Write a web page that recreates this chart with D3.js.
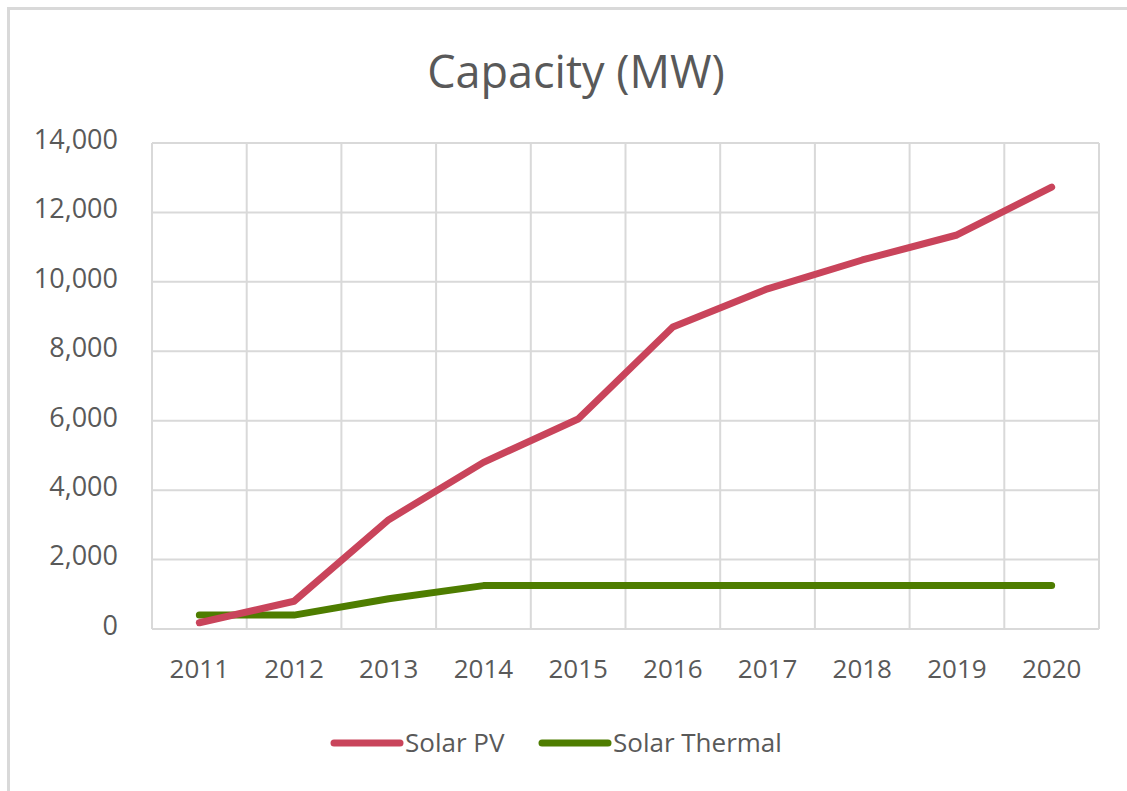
<!DOCTYPE html>
<html>
<head>
<meta charset="utf-8">
<script src="https://cdn.jsdelivr.net/npm/d3@7"></script>
<style>
  body { margin: 0; background: #fff; }
  text { font-family: "Open Sans", "Noto Sans", sans-serif; fill: #595959; }
</style>
</head>
<body>
<div id="chart"></div>
<script>
// chart values
var years = ["2011", "2012", "2013", "2014", "2015", "2016", "2017", "2018", "2019", "2020"];
var solarPV = [180, 800, 3150, 4800, 6050, 8700, 9800, 10630, 11350, 12730];
var solarThermal = [400, 400, 870, 1250, 1250, 1250, 1250, 1250, 1250, 1250];
var yTicks = [0, 2000, 4000, 6000, 8000, 10000, 12000, 14000];
var seriesNames = ["Solar PV", "Solar Thermal"];
var seriesColors = ["#c9445b", "#4e7d00"];

var svgWidth = 1127;
var svgHeight = 791;

var margin = { top: 143, right: 28, bottom: 162, left: 152 };
var width = svgWidth - margin.left - margin.right;
var height = svgHeight - margin.top - margin.bottom;

var svg = d3.select("#chart")
  .append("svg")
  .attr("width", svgWidth)
  .attr("height", svgHeight);

// outer chart border (cut off by the screenshot on the right and bottom)
svg.append("path")
  .attr("d", "M8.5,791 V8.5 H1127")
  .attr("fill", "none")
  .attr("stroke", "#d9d9d9")
  .attr("stroke-width", 3);

// tail of a heading above the chart, mostly cropped away
svg.append("text")
  .attr("x", 314)
  .attr("y", -9)
  .style("font-family", "'Open Sans', sans-serif")
  .style("font-weight", "bold")
  .style("font-size", "40px")
  .style("fill", "#000")
  .text("g");

// title
svg.append("text")
  .attr("x", 576)
  .attr("y", 88)
  .attr("text-anchor", "middle")
  .style("font-size", "45px")
  .text("Capacity (MW)");

var chartGroup = svg.append("g")
  .attr("transform", `translate(${margin.left}, ${margin.top})`);

var xScale = d3.scaleBand()
  .domain(years)
  .range([0, width])
  .padding(0);

var yScale = d3.scaleLinear()
  .domain([0, 14000])
  .range([height, 0]);

// horizontal gridlines
chartGroup.append("g")
  .selectAll("line")
  .data(yTicks)
  .enter()
  .append("line")
  .attr("x1", 0)
  .attr("x2", width)
  .attr("y1", d => yScale(d))
  .attr("y2", d => yScale(d))
  .attr("stroke", "#d9d9d9")
  .attr("stroke-width", 2);

// vertical gridlines between categories
var bounds = years.map(d => xScale(d)).concat([width]);
chartGroup.append("g")
  .selectAll("line")
  .data(bounds)
  .enter()
  .append("line")
  .attr("x1", d => d)
  .attr("x2", d => d)
  .attr("y1", 0)
  .attr("y2", height)
  .attr("stroke", "#d9d9d9")
  .attr("stroke-width", 2);

// y axis labels
var leftAxis = d3.axisLeft(yScale)
  .tickValues(yTicks)
  .tickSize(0)
  .tickPadding(34)
  .tickFormat(d3.format(","));

var yAxis = chartGroup.append("g").call(leftAxis);
yAxis.select(".domain").remove();
yAxis.selectAll("text")
  .style("font-size", "27px")
  .style("fill", "#595959")
  .attr("dy", "0.2em");

// x axis labels
var bottomAxis = d3.axisBottom(xScale)
  .tickSize(0)
  .tickPadding(31);

var xAxis = chartGroup.append("g")
  .attr("transform", `translate(0, ${height})`)
  .call(bottomAxis);
xAxis.select(".domain").remove();
xAxis.selectAll("text")
  .style("font-size", "26px")
  .style("fill", "#595959");

// lines
var line = d3.line()
  .x((d, i) => xScale(years[i]) + xScale.bandwidth() / 2)
  .y(d => yScale(d));

// draw thermal first so PV sits on top
var drawOrder = [1, 0];
var allSeries = [solarPV, solarThermal];

chartGroup.append("g")
  .selectAll("path")
  .data(drawOrder)
  .enter()
  .append("path")
  .attr("d", k => line(allSeries[k]))
  .attr("fill", "none")
  .attr("stroke", k => seriesColors[k])
  .attr("stroke-width", 7)
  .attr("stroke-linecap", "round")
  .attr("stroke-linejoin", "round");

// legend
var legendX = [334, 542];
var legend = svg.append("g");

legend.selectAll("line")
  .data(seriesNames)
  .enter()
  .append("line")
  .attr("x1", (d, i) => legendX[i])
  .attr("x2", (d, i) => legendX[i] + 66)
  .attr("y1", 743)
  .attr("y2", 743)
  .attr("stroke", (d, i) => seriesColors[i])
  .attr("stroke-width", 7)
  .attr("stroke-linecap", "round");

legend.selectAll("text")
  .data(seriesNames)
  .enter()
  .append("text")
  .attr("x", (d, i) => legendX[i] + 71)
  .attr("y", 752)
  .style("font-size", "26px")
  .text(d => d);
</script>
</body>
</html>
